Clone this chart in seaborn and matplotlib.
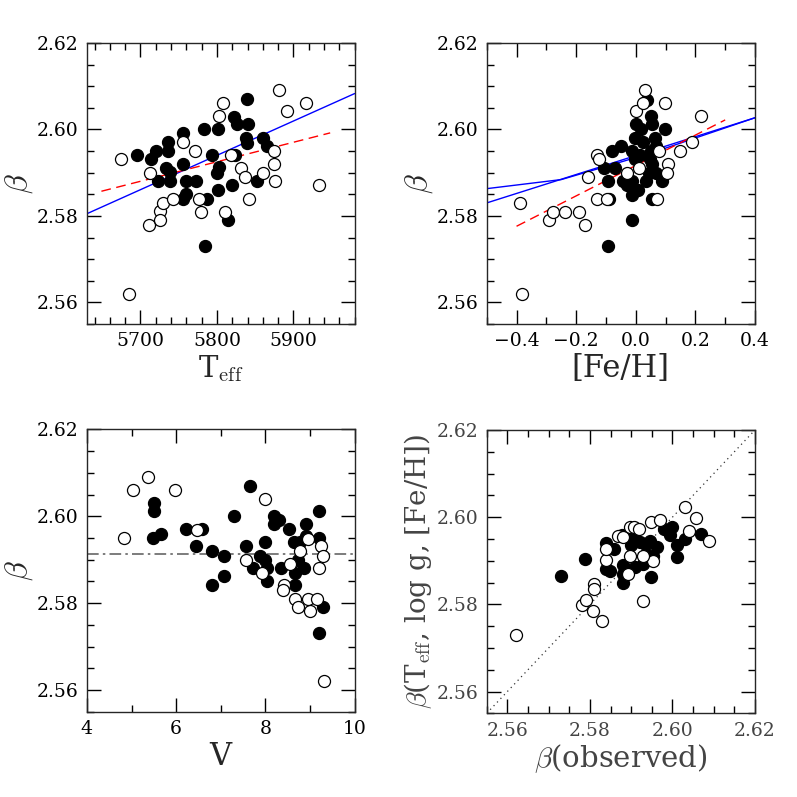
import numpy as np
import pandas as pd
import matplotlib
matplotlib.use("Agg")
import matplotlib.pyplot as plt
from matplotlib.ticker import MultipleLocator
import seaborn as sns

# ---- panel 1: beta vs Teff ----
teff_filled = [5695, 5714, 5720, 5736, 5736, 5755, 5734, 5738, 5723, 5738, 5755, 5759,
               5773, 5755, 5759, 5783, 5787, 5793, 5802, 5800, 5803, 5802, 5822, 5826,
               5840, 5839, 5838, 5839, 5824, 5820, 5853, 5860, 5865, 5815, 5785]
beta_teff_filled = [2.5941, 2.5931, 2.5951, 2.5971, 2.5951, 2.5992, 2.5911, 2.5901, 2.5880,
                    2.5880, 2.5920, 2.5880, 2.5880, 2.5839, 2.5851, 2.6002, 2.5839, 2.5941,
                    2.6002, 2.5900, 2.5914, 2.5861, 2.6029, 2.6012, 2.6012, 2.6071, 2.5981,
                    2.5969, 2.5941, 2.5871, 2.5880, 2.5981, 2.5961, 2.5790, 2.5730]
teff_open = [5675, 5712, 5711, 5725, 5725, 5730, 5743, 5756, 5771, 5777, 5779, 5803, 5808,
             5810, 5831, 5837, 5842, 5860, 5875, 5875, 5876, 5881, 5891, 5917, 5934, 5685, 5819]
beta_teff_open = [2.5931, 2.5900, 2.5780, 2.5811, 2.5790, 2.5830, 2.5839, 2.5971, 2.5951,
                  2.5839, 2.5810, 2.6031, 2.6062, 2.5810, 2.5911, 2.5890, 2.5839, 2.5900,
                  2.5950, 2.5920, 2.5880, 2.6091, 2.6042, 2.6062, 2.5871, 2.5619, 2.5941]
fit1_blue_x = [5630, 5980]
fit1_blue_y = [2.5805, 2.6083]
fit1_red_x = [5649, 5948]
fit1_red_y = [2.5857, 2.5992]

# ---- panel 2: beta vs [Fe/H] ----
feh_filled = [-0.092, -0.011, -0.092, -0.089, -0.107, -0.070, -0.081, -0.051, -0.044, -0.031,
              -0.012, -0.014, 0.008, -0.012, -0.003, 0.002, 0.019, 0.024, -0.003, 0.013,
              0.038, 0.050, 0.056, 0.097, 0.063, 0.069, 0.052, 0.056, 0.043, 0.033, 0.089,
              0.069, 0.056, 0.047]
beta_feh_filled = [2.5730, 2.5790, 2.5880, 2.5839, 2.5911, 2.5911, 2.5950, 2.5961, 2.5880,
                   2.5871, 2.5880, 2.5849, 2.5861, 2.5950, 2.5981, 2.6012, 2.6000, 2.5971,
                   2.5931, 2.5941, 2.6069, 2.6031, 2.6012, 2.6002, 2.5981, 2.5961, 2.5950,
                   2.5920, 2.5900, 2.5880, 2.5880, 2.5900, 2.5839, 2.5931]
feh_open = [-0.389, -0.381, -0.290, -0.278, -0.239, -0.190, -0.170, -0.159, -0.131, -0.122,
            -0.131, -0.098, 0.000, 0.024, 0.032, 0.097, 0.219, 0.189, 0.149, 0.108, 0.104,
            0.078, 0.071, 0.010, -0.029]
beta_feh_open = [2.5830, 2.5619, 2.5790, 2.5810, 2.5810, 2.5810, 2.5780, 2.5890, 2.5941,
                 2.5931, 2.5839, 2.5839, 2.6042, 2.6060, 2.6091, 2.6062, 2.6031, 2.5971,
                 2.5950, 2.5920, 2.5900, 2.5950, 2.5839, 2.5911, 2.5900]
fit2_blue_x = [-0.5, 0.4]
fit2_blue_y = [2.5830, 2.6027]
fit2_curve_x = [-0.5, -0.25, 0.05, 0.4]
fit2_curve_y = [2.5863, 2.5884, 2.5945, 2.6027]
fit2_red_x = [-0.4, 0.3]
fit2_red_y = [2.5776, 2.6022]

# ---- panel 3: beta vs V ----
v_filled = [5.51, 5.51, 5.48, 5.66, 6.22, 6.58, 6.44, 6.80, 7.08, 6.80, 7.08, 7.30, 7.66,
            7.56, 7.99, 7.87, 7.99, 7.73, 8.03, 8.03, 8.20, 8.31, 8.20, 8.52, 8.36, 8.63,
            8.78, 8.91, 8.74, 8.66, 8.66, 8.87, 8.91, 9.21, 9.21, 9.28, 9.21]
beta_v_filled = [2.6031, 2.6012, 2.5950, 2.5960, 2.5971, 2.5971, 2.5931, 2.5919, 2.5909,
                 2.5841, 2.5862, 2.6000, 2.6069, 2.5931, 2.5940, 2.5909, 2.5900, 2.5881,
                 2.5881, 2.5850, 2.6000, 2.5991, 2.5981, 2.5971, 2.5881, 2.5940, 2.5940,
                 2.5981, 2.5900, 2.5869, 2.5841, 2.5881, 2.5954, 2.6012, 2.5950, 2.5790, 2.5731]
v_open = [4.84, 5.03, 5.38, 5.98, 6.46, 7.99, 7.56, 7.92, 8.54, 8.42, 8.39, 8.66, 8.74,
          8.99, 8.96, 9.15, 9.19, 9.24, 9.30, 8.96, 8.78, 9.32]
beta_v_open = [2.5950, 2.6060, 2.6090, 2.6060, 2.5969, 2.6040, 2.5900, 2.5869, 2.5891,
               2.5842, 2.5831, 2.5809, 2.5790, 2.5781, 2.5809, 2.5809, 2.5881, 2.5931,
               2.5909, 2.5948, 2.5919, 2.5621]
beta_mean = 2.5914

# ---- panel 4: calculated vs observed beta ----
obs_filled = [2.5729, 2.5788, 2.5838, 2.5858, 2.5839, 2.5848, 2.5877, 2.5879, 2.5879,
              2.5879, 2.5901, 2.5900, 2.5910, 2.5921, 2.5929, 2.5937, 2.5945, 2.5949,
              2.5953, 2.5963, 2.5980, 2.5999, 2.5994, 2.6010, 2.6010, 2.6030, 2.6070, 2.5937]
calc_filled = [2.5865, 2.5904, 2.5941, 2.5927, 2.5881, 2.5877, 2.5958, 2.5891, 2.5869,
               2.5848, 2.5958, 2.5935, 2.5885, 2.5942, 2.5892, 2.5915, 2.5946, 2.5863,
               2.5912, 2.5932, 2.5973, 2.5977, 2.5958, 2.5935, 2.5908, 2.5950, 2.5962, 2.5938]
obs_open = [2.5620, 2.5780, 2.5790, 2.5810, 2.5810, 2.5808, 2.5830, 2.5840, 2.5840, 2.5869,
            2.5881, 2.5897, 2.5907, 2.5919, 2.5898, 2.5893, 2.5929, 2.5949, 2.5969, 2.5952,
            2.6030, 2.6058, 2.6040, 2.6089, 2.5929]
calc_open = [2.5729, 2.5798, 2.5810, 2.5846, 2.5836, 2.5785, 2.5762, 2.5902, 2.5927, 2.5956,
             2.5954, 2.5977, 2.5978, 2.5973, 2.5912, 2.5869, 2.5808, 2.5988, 2.5994, 2.5900,
             2.6023, 2.5998, 2.5968, 2.5946, 2.5912]
one_to_one = [2.555, 2.62]

sns.set_style("ticks")
plt.rcParams["font.family"] = ["DejaVu Serif"]
plt.rcParams["mathtext.fontset"] = "cm"
plt.rcParams["axes.unicode_minus"] = True

fig = plt.figure(figsize=(7.97, 7.97), dpi=100)
ax1 = fig.add_axes([0.109, 0.5935, 0.336, 0.3526])
ax2 = fig.add_axes([0.6107, 0.5935, 0.3366, 0.3526])
ax3 = fig.add_axes([0.109, 0.107, 0.336, 0.3543])
ax4 = fig.add_axes([0.6107, 0.105, 0.3366, 0.3555])


def dots(ax, x, y, filled):
    df = pd.DataFrame({"x": x, "y": y})
    sns.scatterplot(data=df, x="x", y="y", ax=ax, s=75,
                    color="black" if filled else "white",
                    edgecolor="black", linewidth=0.9, zorder=3)


def style(ax, xmaj, xmin, text_color="black"):
    ax.set_ylim(2.555, 2.62)
    ax.xaxis.set_major_locator(MultipleLocator(xmaj))
    ax.xaxis.set_minor_locator(MultipleLocator(xmin))
    ax.yaxis.set_major_locator(MultipleLocator(0.02))
    ax.yaxis.set_minor_locator(MultipleLocator(0.005))
    ax.tick_params(which="both", direction="in", top=True, right=True,
                   labelsize=13.5, pad=6, colors="black", labelcolor=text_color)
    ax.tick_params(which="major", length=10, width=1)
    ax.tick_params(which="minor", length=5, width=1)
    for sp in ax.spines.values():
        sp.set_linewidth(1)
        sp.set_visible(True)
    ax.set_xlabel("")
    ax.set_ylabel("")


# panel 1
dots(ax1, teff_filled, beta_teff_filled, True)
dots(ax1, teff_open, beta_teff_open, False)
ax1.plot(fit1_blue_x, fit1_blue_y, color="blue", lw=1)
ax1.plot(fit1_red_x, fit1_red_y, color="red", lw=1, dashes=(7, 4))
style(ax1, 100, 20)
ax1.set_xlim(5630, 5980)
ax1.set_xlabel(r"T$_{\mathrm{eff}}$", fontsize=21, labelpad=2)
ax1.set_ylabel(r"$\beta$", fontsize=23, labelpad=1)

# panel 2
dots(ax2, feh_filled, beta_feh_filled, True)
dots(ax2, feh_open, beta_feh_open, False)
ax2.plot(fit2_blue_x, fit2_blue_y, color="blue", lw=1)
ax2.plot(fit2_curve_x, fit2_curve_y, color="blue", lw=1)
ax2.plot(fit2_red_x, fit2_red_y, color="red", lw=1, dashes=(7, 4))
style(ax2, 0.2, 0.1)
ax2.set_xlim(-0.5, 0.4)
ax2.set_xlabel("[Fe/H]", fontsize=22, labelpad=2)
ax2.set_ylabel(r"$\beta$", fontsize=23, labelpad=1)

# panel 3
dots(ax3, v_filled, beta_v_filled, True)
dots(ax3, v_open, beta_v_open, False)
ax3.axhline(beta_mean, color="#666666", lw=1.2, dashes=(7, 2.5, 1.5, 2.5))
style(ax3, 2, 1)
ax3.set_xlim(4, 10)
ax3.set_xlabel("V", fontsize=22, labelpad=2)
ax3.set_ylabel(r"$\beta$", fontsize=23, labelpad=1)

# panel 4
grey = "#444444"
dots(ax4, obs_filled, calc_filled, True)
dots(ax4, obs_open, calc_open, False)
ax4.plot(one_to_one, one_to_one, color="#333333", lw=0.9, ls=(0, (1, 3)))
style(ax4, 0.02, 0.005, text_color=grey)
ax4.set_xlim(2.555, 2.62)
ax4.set_xlabel(r"$\beta$(observed)", fontsize=21, labelpad=2, color=grey)
ax4.set_ylabel(r"$\beta$(T$_{\mathrm{eff}}$, log g, [Fe/H])", fontsize=20, labelpad=2, color=grey)

fig.savefig("out.png", dpi=100)
